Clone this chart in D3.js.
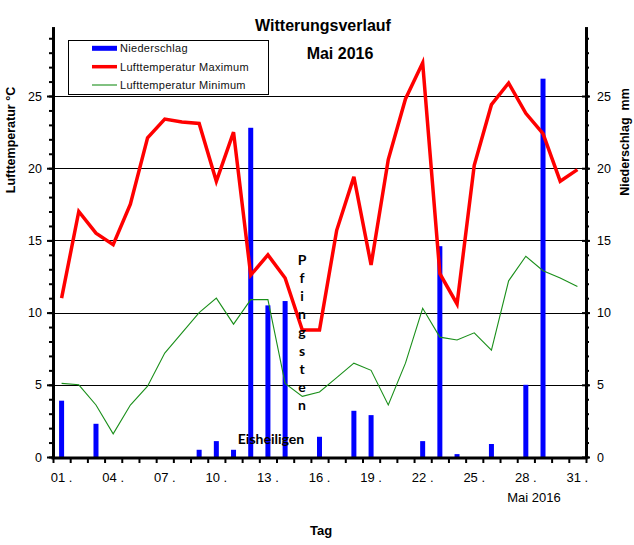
<!DOCTYPE html>
<html>
<head>
<meta charset="utf-8">
<script src="https://cdn.jsdelivr.net/npm/d3@7/dist/d3.min.js"></script>
<style>
  html, body { margin: 0; padding: 0; background: #fff; }
  svg { display: block; }
  text { font-family: "Liberation Sans", Arial, sans-serif; }
</style>
</head>
<body>
<svg id="chart" width="634" height="545"></svg>
<script>
// ---- data ----
const days = d3.range(1, 32);
const precip = [3.9,0,2.3,0,0,0,0,0,0.5,1.1,0.5,22.8,10.5,10.8,0,1.4,0,3.2,2.9,0,0,1.1,14.6,0.2,0,0.9,0,5.0,26.2,0,0];
const tMax = [11.0,17.0,15.5,14.7,17.5,22.1,23.4,23.2,23.1,19.1,22.5,12.6,14.0,12.4,8.8,8.8,15.7,19.4,13.3,20.6,24.8,27.3,12.7,10.6,20.2,24.4,25.9,23.8,22.4,19.1,19.9];
const tMin = [5.1,5.0,3.6,1.6,3.6,4.9,7.2,8.6,10.0,11.0,9.2,10.9,10.9,5.1,4.2,4.5,5.5,6.5,6.0,3.6,6.5,10.3,8.3,8.1,8.6,7.4,12.2,13.9,12.9,12.4,11.8];
const xTickDays = [1,4,7,10,13,16,19,22,25,28,31];
const xTickLabels = ["01 .","04 .","07 .","10 .","13 .","16 .","19 .","22 .","25 .","28 .","31 ."];
const yTicks = [0,5,10,15,20,25];
const legendItems = ["Niederschlag","Lufttemperatur Maximum","Lufttemperatur Minimum"];

// ---- scales ----
const svg = d3.select("#chart");
const x = d3.scaleLinear().domain([0.5, 31.5]).range([53, 586]);
const y = d3.scaleLinear().domain([0, 29.8]).range([457, 26.7]);

// gridlines
svg.append("g").selectAll("line").data(yTicks.slice(1)).join("line")
  .attr("x1", x(0.5)).attr("x2", x(31.5))
  .attr("y1", d => Math.round(y(d)) + 0.5).attr("y2", d => Math.round(y(d)) + 0.5)
  .attr("stroke", "#000").attr("stroke-width", 1);

// bars
const barW = 5;
svg.append("g").selectAll("rect").data(days.filter((d, i) => precip[i] > 0)).join("rect")
  .attr("x", d => x(d) - barW / 2)
  .attr("width", barW)
  .attr("y", d => y(precip[d - 1]))
  .attr("height", d => y(0) - y(precip[d - 1]))
  .attr("fill", "#0000ff");

// lines
const lineGen = arr => d3.line().x(d => x(d)).y(d => y(arr[d - 1]))(days);
svg.append("path").attr("d", lineGen(tMin)).attr("fill", "none")
  .attr("stroke", "#1a8f1a").attr("stroke-width", 1.1);
svg.append("path").attr("d", lineGen(tMax)).attr("fill", "none")
  .attr("stroke", "#ff0000").attr("stroke-width", 3.5).attr("stroke-linejoin", "miter");

// annotations
svg.append("text").text("Eisheiligen")
  .attr("x", 271).attr("y", 444).attr("text-anchor", "middle")
  .style("font-family", "Lato, 'Noto Sans', sans-serif").style("font-weight", "bold").style("font-size", "14px");
const pf = "Pfingsten".split("");
svg.append("g").selectAll("text").data(pf).join("text")
  .text(d => d)
  .attr("x", 302).attr("y", (d, i) => 265 + i * 18.1).attr("text-anchor", "middle")
  .style("font-family", "Lato, 'Noto Sans', sans-serif").style("font-weight", "bold").style("font-size", "14px");

// legend
const lg = svg.append("g");
lg.append("rect").attr("x", 68.5).attr("y", 40.5).attr("width", 200).attr("height", 54)
  .attr("fill", "#fff").attr("stroke", "#000").attr("stroke-width", 1);
const ly = [48.3, 66.7, 85];
lg.append("line").attr("x1", 92).attr("x2", 117).attr("y1", ly[0]).attr("y2", ly[0]).attr("stroke", "#0000ff").attr("stroke-width", 5);
lg.append("line").attr("x1", 92).attr("x2", 117).attr("y1", ly[1]).attr("y2", ly[1]).attr("stroke", "#ff0000").attr("stroke-width", 3.5);
lg.append("line").attr("x1", 92).attr("x2", 117).attr("y1", ly[2]).attr("y2", ly[2]).attr("stroke", "#1a8f1a").attr("stroke-width", 1.1);
lg.selectAll("text.lg").data(legendItems).join("text").attr("class", "lg")
  .text(d => d).attr("x", 120).attr("y", (d, i) => ly[i]).attr("dy", "0.35em")
  .style("font-size", "11px").style("letter-spacing", "0.3px").attr("fill", "#111");

// titles
svg.append("text").text("Witterungsverlauf").attr("x", 323).attr("y", 31)
  .attr("text-anchor", "middle").style("font-weight", "bold").style("font-size", "16px");
svg.append("text").text("Mai 2016").attr("x", 340).attr("y", 59)
  .attr("text-anchor", "middle").style("font-weight", "bold").style("font-size", "16px");
svg.append("text").text("Lufttemperatur °C")
  .attr("transform", "translate(15,140) rotate(-90)").attr("text-anchor", "middle")
  .style("font-weight", "bold").style("font-size", "12.5px");
svg.append("text").text("Niederschlag  mm").style("white-space", "pre")
  .attr("transform", "translate(629,142) rotate(-90)").attr("text-anchor", "middle")
  .style("font-weight", "bold").style("font-size", "12.5px");
svg.append("text").text("Tag").attr("x", 321).attr("y", 535)
  .attr("text-anchor", "middle").style("font-weight", "bold").style("font-size", "13px");
svg.append("text").text("Mai 2016").attr("x", 534).attr("y", 502)
  .attr("text-anchor", "middle").style("font-size", "13px");

// axes
function styleAxis(g, w) {
  g.select(".domain").attr("stroke", "#000").attr("stroke-width", w);
  g.selectAll(".tick line").attr("stroke", "#000").attr("stroke-width", 2);
  g.selectAll(".tick text").style("font-size", "12.5px").attr("fill", "#000")
    .style("font-family", "'Liberation Sans', Arial, sans-serif");
}
// left minor + major
const lMinor = svg.append("g").attr("transform", `translate(${x(0.5)},0)`)
  .call(d3.axisLeft(y).tickValues(d3.range(0, 30)).tickSize(4).tickSizeOuter(0).tickFormat(""));
styleAxis(lMinor, 3);
const lMajor = svg.append("g").attr("transform", `translate(${x(0.5)},0)`)
  .call(d3.axisLeft(y).tickValues(yTicks).tickSize(6).tickSizeOuter(0).tickPadding(5));
styleAxis(lMajor, 3);
// right minor + major
const rMinor = svg.append("g").attr("transform", `translate(${x(31.5)},0)`)
  .call(d3.axisRight(y).tickValues(d3.range(0, 30)).tickSize(3).tickSizeOuter(0).tickFormat(""));
styleAxis(rMinor, 3);
const rMajor = svg.append("g").attr("transform", `translate(${x(31.5)},0)`)
  .call(d3.axisRight(y).tickValues(yTicks).tickSize(4).tickSizeOuter(0).tickPadding(7));
styleAxis(rMajor, 3);
rMajor.selectAll(".tick line").attr("x1", -4);
// bottom
const bAxis = svg.append("g").attr("transform", `translate(0,${y(0) + 1})`)
  .call(d3.axisBottom(x).tickValues(d3.range(0.5, 32, 1)).tickSize(5).tickSizeOuter(0).tickFormat(""));
styleAxis(bAxis, 3);
bAxis.select(".domain").attr("d", `M${x(0.5) - 1.5},0H${x(31.5) + 1.5}`);
svg.append("g").selectAll("text").data(xTickDays).join("text")
  .text((d, i) => xTickLabels[i])
  .attr("x", d => x(d)).attr("y", 482).attr("text-anchor", "middle")
  .style("font-size", "13px");
</script>
</body>
</html>
